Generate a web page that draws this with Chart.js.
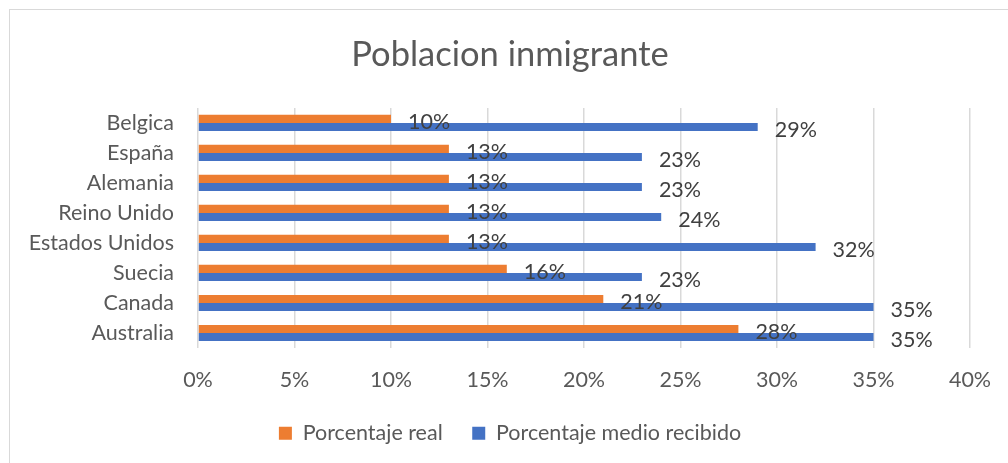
<!DOCTYPE html>
<html>
<head>
<meta charset="utf-8">
<script src="https://cdn.jsdelivr.net/npm/chart.js@4"></script>
<style>
  html, body { margin: 0; padding: 0; background: #fff; overflow: hidden; }
  #frame { position: absolute; left: 9px; top: 9px; width: 1100px; height: 600px; border: 1px solid #d9d9d9; }
  #wrap { position: absolute; left: 0; top: 0; width: 1020px; height: 463px; }
</style>
</head>
<body>
<div id="frame"></div>
<div id="wrap"><canvas id="Chart"></canvas></div>
<script>
// chart values
const countries = ['Belgica', 'España', 'Alemania', 'Reino Unido', 'Estados Unidos', 'Suecia', 'Canada', 'Australia'];
const realPct = [10, 13, 13, 13, 13, 16, 21, 28];
const perceivedPct = [29, 23, 23, 24, 32, 23, 35, 35];
const seriesNames = ['Porcentaje real', 'Porcentaje medio recibido'];
const xMin = 0, xMax = 40, xStep = 5;

const FONT = 'Lato, Calibri, sans-serif';
const GREY = '#595959';
const TEXT_SIZE = 21.5;

// value labels drawn after the bar end
const barLabels = {
    id: 'barLabels',
    afterDatasetsDraw(chart) {
        const ctx = chart.ctx;
        ctx.save();
        ctx.font = TEXT_SIZE + 'px ' + FONT;
        ctx.fillStyle = '#404040';
        ctx.textAlign = 'left';
        ctx.textBaseline = 'middle';
        chart.data.datasets.forEach((ds, i) => {
            chart.getDatasetMeta(i).data.forEach((bar, j) => {
                ctx.fillText(ds.data[j] + '%', bar.x + 17, bar.y + 3);
            });
        });
        ctx.restore();
    }
};

const ctx = document.getElementById('Chart');

new Chart(ctx, {
    type: 'bar',
    data: {
        labels: countries,
        datasets: [{
            label: seriesNames[0],
            data: realPct,
            backgroundColor: '#ED7D31',
            categoryPercentage: 0.54,
            barPercentage: 1
        }, {
            label: seriesNames[1],
            data: perceivedPct,
            backgroundColor: '#4472C4',
            categoryPercentage: 0.54,
            barPercentage: 1
        }]
    },
    options: {
        indexAxis: 'y',
        responsive: true,
        maintainAspectRatio: false,
        animation: false,
        layout: { padding: { left: 0, right: 0, top: 0, bottom: 9 } },
        scales: {
            x: {
                min: xMin,
                max: xMax,
                ticks: {
                    stepSize: xStep,
                    callback: v => v + '%',
                    font: { family: FONT, size: TEXT_SIZE },
                    color: GREY,
                    padding: 19
                },
                grid: { color: '#d9d9d9', lineWidth: 1.5, drawTicks: false },
                border: { display: false },
                afterFit: axis => { axis.height = 45; }
            },
            y: {
                ticks: {
                    font: { family: FONT, size: TEXT_SIZE },
                    color: GREY,
                    padding: 24
                },
                grid: { display: false, drawTicks: false },
                border: { display: false },
                afterFit: axis => { axis.width = 198; }
            },
            // empty right-hand spacer so the title/legend centre like the original
            spacer: {
                type: 'linear',
                position: 'right',
                ticks: { display: false },
                grid: { display: false, drawTicks: false },
                border: { display: false },
                afterFit: axis => { axis.width = 50; }
            }
        },
        plugins: {
            title: {
                display: true,
                text: 'Poblacion inmigrante',
                color: GREY,
                font: { family: FONT, size: 34.5, weight: 'normal' },
                padding: { top: 34, bottom: 32.5 }
            },
            legend: {
                position: 'bottom',
                labels: {
                    boxWidth: 13,
                    boxHeight: 13,
                    padding: 29.5,
                    color: GREY,
                    font: { family: FONT, size: TEXT_SIZE }
                }
            },
            tooltip: { enabled: false }
        }
    },
    plugins: [barLabels]
});
</script>
</body>
</html>
